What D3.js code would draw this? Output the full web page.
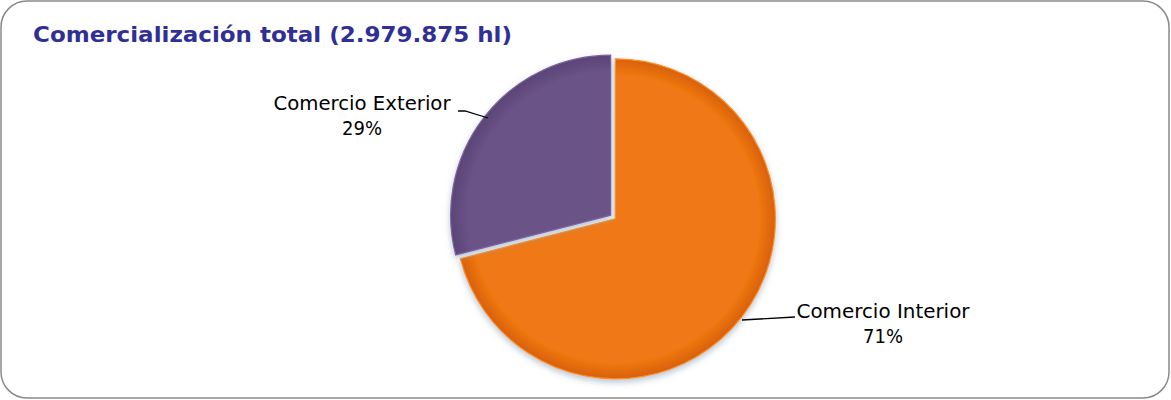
<!DOCTYPE html>
<html><head><meta charset="utf-8">
<script src="https://cdn.jsdelivr.net/npm/d3@7"></script>
<style>body{margin:0;background:#fff}svg{display:block}</style>
</head><body>
<script>
const categories = ["Comercio Interior", "Comercio Exterior"];
const values = [71, 29];
const labels = ["71%", "29%"];
const colors = ["#f07812", "#6a5287"];
const rimColors = ["#d8600a", "#5a4475"];
const title = "Comercialización total (2.979.875 hl)";

const W = 1171, H = 400;
const svg = d3.select("body").append("svg").attr("width", W).attr("height", H);
svg.append("rect").attr("x", 1).attr("y", 1).attr("width", W - 3).attr("height", H - 3)
  .attr("rx", 26).attr("ry", 26).attr("fill", "#fff").attr("stroke", "#8a8a8a").attr("stroke-width", 1.5);

const t = svg.append("text").attr("x", 33).attr("y", 42).text(title)
  .attr("font-family", "DejaVu Sans, sans-serif").attr("font-weight", "bold")
  .attr("font-size", 22).attr("fill", "#2f2f96");
t.attr("textLength", 479).attr("lengthAdjust", "spacingAndGlyphs");

const cx = 613, cy = 217, R = 160;
const defs = svg.append("defs");
colors.forEach((c, i) => {
  const g = defs.append("radialGradient").attr("id", "g" + i).attr("gradientUnits", "userSpaceOnUse")
    .attr("cx", 0).attr("cy", 0).attr("r", R);
  g.append("stop").attr("offset", "0%").attr("stop-color", c);
  g.append("stop").attr("offset", "90%").attr("stop-color", c);
  g.append("stop").attr("offset", "100%").attr("stop-color", rimColors[i]);
});
const f = defs.append("filter").attr("id", "sh").attr("x", "-20%").attr("y", "-20%").attr("width", "140%").attr("height", "140%");
f.append("feDropShadow").attr("dx", 0).attr("dy", 3).attr("stdDeviation", 3).attr("flood-color", "#8aa0b8").attr("flood-opacity", 0.6);

const pie = d3.pie().sort(null).value(d => d);
const arcs = pie(values);
const arc = d3.arc().innerRadius(0).outerRadius(R);
const explode = 3;
const g = svg.append("g").attr("transform", `translate(${cx},${cy})`);
arcs.forEach((a, i) => {
  const m = (a.startAngle + a.endAngle) / 2;
  const dx = Math.sin(m) * explode, dy = -Math.cos(m) * explode;
  g.append("path").attr("d", arc(a)).attr("transform", `translate(${dx},${dy})`)
    .attr("fill", `url(#g${i})`).attr("filter", "url(#sh)")
    .attr("stroke", d3.color(colors[i]).brighter(0.5)).attr("stroke-width", 1.2);
});

// labels
const labelPos = [{x: 883, y: 318, w: 173, line: [[742, 320], [795, 317]]},
                  {x: 362, y: 110, w: 177, line: [[488, 118], [465, 111], [458, 111]]}];
categories.forEach((c, i) => {
  const p = labelPos[i];
  svg.append("path").attr("d", d3.line()(p.line)).attr("fill", "none").attr("stroke", "#000").attr("stroke-width", 1.3);
  const tx = svg.append("text").attr("x", p.x).attr("text-anchor", "middle")
    .attr("font-family", "DejaVu Sans, sans-serif").attr("font-size", 20).attr("fill", "#000");
  tx.append("tspan").attr("x", p.x).attr("y", p.y).text(c)
    .attr("textLength", p.w).attr("lengthAdjust", "spacingAndGlyphs");
  tx.append("tspan").attr("x", p.x).attr("y", p.y + 25).text(labels[i])
    .attr("textLength", 40).attr("lengthAdjust", "spacingAndGlyphs");
});
</script>
</body></html>
